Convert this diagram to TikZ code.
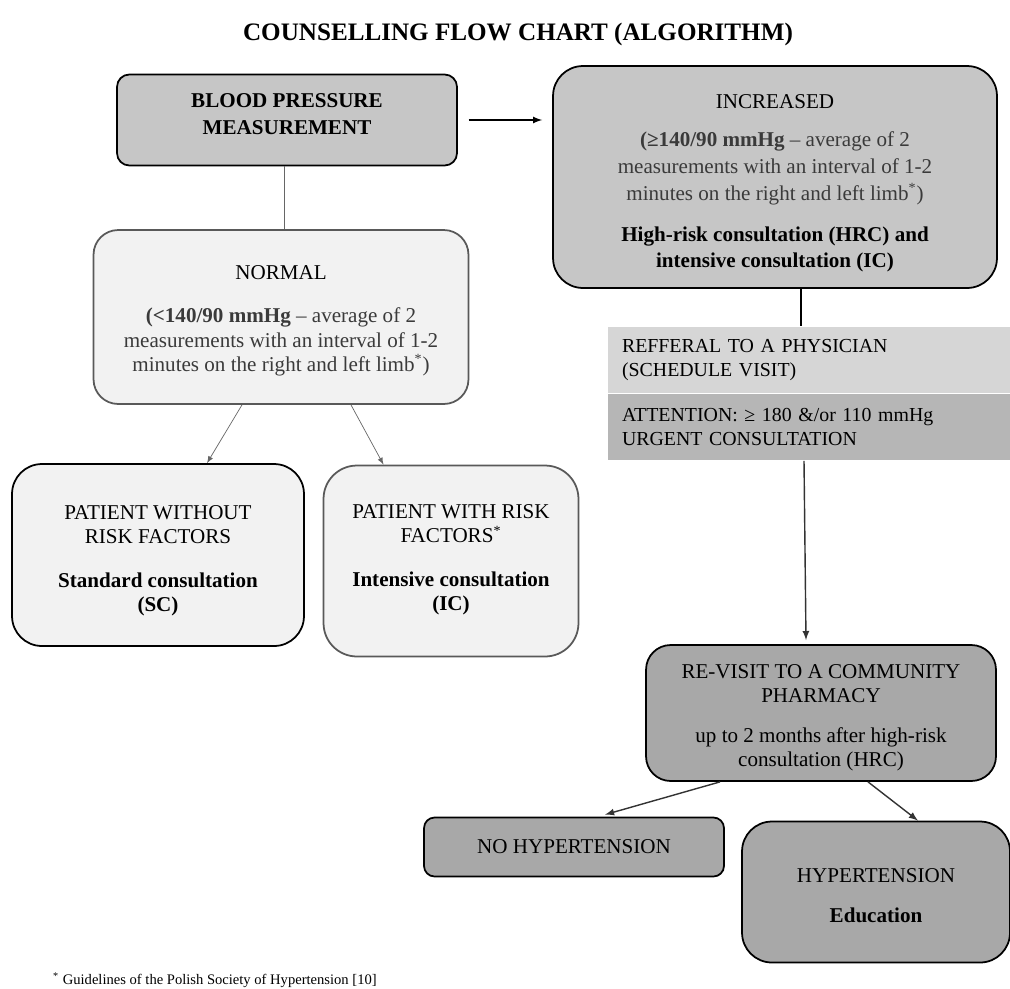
\documentclass[tikz,border=0pt]{standalone}
\usepackage{fontspec}
\setmainfont{Liberation Serif}
\usetikzlibrary{arrows,positioning}

\definecolor{midgray}{HTML}{C6C6C6}
\definecolor{lightgray}{HTML}{F2F2F2}
\definecolor{darkgray}{HTML}{A8A8A8}
\definecolor{refgray}{HTML}{D6D6D6}
\definecolor{attgray}{HTML}{B6B6B6}
\definecolor{txtgray}{HTML}{3A3A3A}
\newcommand{\desc}[1]{{\color{txtgray}#1}}

\begin{document}
\begin{tikzpicture}[x=0.02cm,y=-0.02cm,
		box/.style={draw,line width=1pt,align=center,inner sep=2pt,font=\fontsize{12}{13.8}\selectfont},
		softbox/.style={box,draw=black!65},
		band/.style={inner xsep=0.28cm,text width=7.48cm,minimum height=1.33cm,align=left,font=\fontsize{11.3}{13.4}\selectfont},
		link/.style={thin,draw=black!60}]
		\useasboundingbox (0,0) rectangle (1010,988);
		\node[font=\bfseries\fontsize{14.3}{17}\selectfont] (title) at (518,34) {COUNSELLING FLOW CHART (ALGORITHM)};
		\node[box,fill=midgray,rounded corners=7pt,minimum width=6.8cm,minimum height=1.82cm,font=\bfseries\fontsize{12}{15.5}\selectfont] (bp) at (287,120) {BLOOD PRESSURE\\MEASUREMENT\\[-8.7pt]};
		\node[box,fill=midgray,rounded corners=17pt,minimum width=8.88cm,minimum height=4.44cm,font=\fontsize{12}{15.3}\selectfont] (inc) at (775,177) {\rule{0pt}{15.5pt}INCREASED\\[6pt]\desc{\textbf{(≥140/90 mmHg} – average of 2}\\\desc{measurements with an interval of 1-2}\\\desc{minutes on the right and left limb\textsuperscript{*})}\\[8pt]\textbf{High-risk consultation (HRC) and}\\\textbf{intensive consultation (IC)}};
		\node[softbox,fill=lightgray,rounded corners=14pt,minimum width=7.5cm,minimum height=3.48cm] (norm) at (281,317) {\rule{0pt}{12pt}NORMAL\\[11pt]\desc{\textbf{(<140/90 mmHg} – average of 2}\\\desc{measurements with an interval of 1-2}\\\desc{minutes on the right and left limb\textsuperscript{*})}};
		\node[box,fill=lightgray,rounded corners=17pt,minimum width=5.84cm,minimum height=3.64cm] (nrisk) at (158,555) {\rule{0pt}{14.2pt}PATIENT WITHOUT\\RISK FACTORS\\[11pt]\textbf{Standard consultation}\\\textbf{(SC)}};
		\node[softbox,fill=lightgray,rounded corners=19pt,minimum width=5.1cm,minimum height=3.82cm] (wrisk) at (451,561) {PATIENT WITH RISK\\FACTORS\textsuperscript{*}\\[11pt]\textbf{Intensive consultation}\\\textbf{(IC)}\\[-9.8pt]};
		\node[band,fill=refgray] (ref) at (809,360) {REFFERAL TO A PHYSICIAN\\(SCHEDULE VISIT)};
		\node[band,fill=attgray,below=0pt of ref] (att) {ATTENTION: ≥ 180 \&/or 110 mmHg\\URGENT CONSULTATION};
		\node[box,fill=darkgray,rounded corners=14pt,minimum width=7cm,minimum height=2.72cm] (visit) at (821,713) {\rule{0pt}{13.6pt}RE-VISIT TO A COMMUNITY\\PHARMACY\\[9pt]up to 2 months after high-risk\\consultation (HRC)};
		\node[box,fill=darkgray,rounded corners=6pt,minimum width=6cm,minimum height=1.18cm] (nohyp) at (574,847) {NO HYPERTENSION};
		\node[box,fill=darkgray,rounded corners=17pt,minimum width=5.36cm,minimum height=2.82cm] (hyp) at (876,892) {\rule{0pt}{12.5pt}HYPERTENSION\\[9pt]\textbf{Education}};
		\node[anchor=base west,font=\fontsize{8.3}{10}\selectfont] (note) at (47,984) {\textsuperscript{*} Guidelines of the Polish Society of Hypertension [10]};
		% connectors:
		\draw [->, thick, >=latex, shorten <=6.2pt, shorten >=5.7pt] (bp.east)--(bp.east -| inc.west);
		\draw [link] ([xshift=-0.06cm]bp.south)--([xshift=-0.06cm]bp.south |- norm.north);
		\draw [->, link, >=latex] ([xshift=-0.78cm]norm.south)--([xshift=0.98cm]nrisk.north);
		\draw [->, link, >=latex] ([xshift=1.4cm]norm.south)--([xshift=-1.35cm]wrisk.north);
		\draw [thick] ([xshift=0.52cm]inc.south)--([xshift=0.52cm]inc.south |- ref.north);
		\draw [->, thick, draw=black!80, >=latex] ([xshift=-0.1cm]att.south)--([xshift=-0.3cm,yshift=0.08cm]visit.north);
		\draw [->, thick, draw=black!80, >=latex] ([xshift=-2.02cm]visit.south)--([xshift=0.62cm,yshift=0.04cm]nohyp.north);
		\draw [->, thick, draw=black!80, >=latex] ([xshift=0.94cm]visit.south)--([xshift=0.84cm]hyp.north);
\end{tikzpicture}
\end{document}
